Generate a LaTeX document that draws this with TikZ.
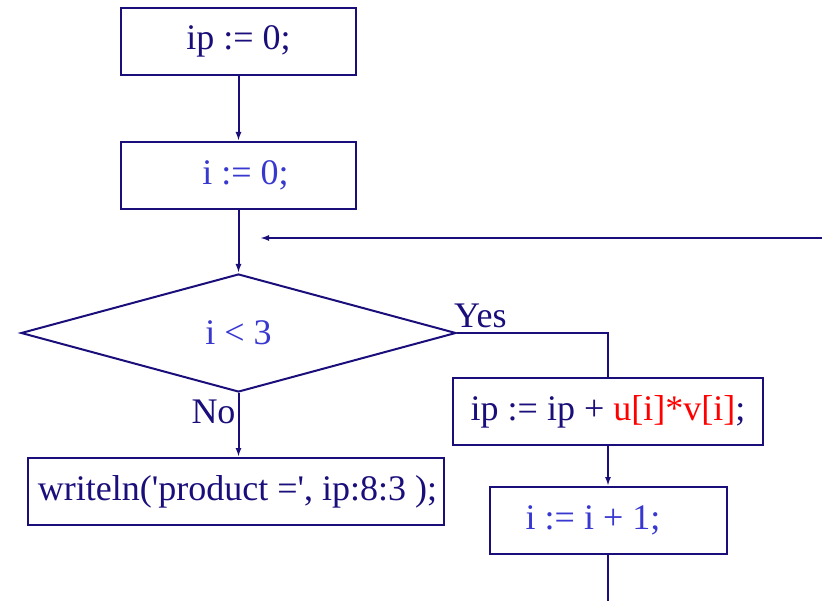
\documentclass[tikz,border=0pt]{standalone}
\usepackage{fontspec}
\setmainfont{Liberation Serif}
\usetikzlibrary{shapes.geometric,arrows.meta,positioning}
\definecolor{flowNavy}{RGB}{26,14,122}
\definecolor{flowBlue}{RGB}{56,56,208}
\definecolor{flowRed}{RGB}{255,0,0}

\begin{document}
\begin{tikzpicture}[x=1pt,y=1pt,node distance=64pt]
\fontsize{36}{40}\selectfont
\tikzset{
  s/.style={rectangle, draw=flowNavy, line width=2pt, minimum height=67pt,
            inner sep=0pt, text=flowNavy},
  d/.style={diamond, draw=flowNavy, line width=2pt, minimum width=435pt,
            minimum height=118pt, inner sep=0pt, text=flowBlue},
  l/.style={-{Latex[length=9pt,width=6pt]}, draw=flowNavy, line width=2pt},
  p/.style={draw=flowNavy, line width=2pt},
  el/.style={text=flowNavy, inner sep=2pt}
}
\useasboundingbox (0,0) rectangle (822,-601);

\node[s, minimum width=235pt] (init) at (238.5,-41.5) {ip := 0;};
\node[s, minimum width=235pt, text=flowBlue, below=65pt of init] (zero) {\hspace*{14pt}i := 0;};
\node[d, below=63pt of zero] (test) {i < 3};
\node[s, minimum width=416pt, below=64pt of test, xshift=-3pt] (out)
 {\hspace*{4pt}writeln(\textquotesingle product =\textquotesingle, ip:8:3 );};
\node[s, minimum width=310pt] (acc) at (608,-411.5)
 {ip := ip + \textcolor{flowRed}{u[i]*v[i]};};
\node[s, minimum width=237pt, text=flowBlue, below=40pt of acc] (inc) {i := i + 1;\hspace*{30pt}};

% Labels
\node[el, above right, xshift=-5pt, yshift=3pt] (yes) at (test.east) {Yes};

% Loop ends
\coordinate (back) at (822,-238);
\coordinate (join) at (260,-238);
\coordinate (exit) at (inc.south |- 0,-601);

% Main spine
\draw[l] (init) -- (zero);
\draw[l] (zero) -- (test);
\draw[l] (test.south) -- node[el, left, pos=0.3]{No} (test.south |- out.north);

% Loop body
\draw[p] (test.east) -| (acc.north);
\draw[l] (acc) -- (inc);
\draw[p] (inc) -- (exit);
\draw[l] (back) -- (join);
\end{tikzpicture}
\end{document}
